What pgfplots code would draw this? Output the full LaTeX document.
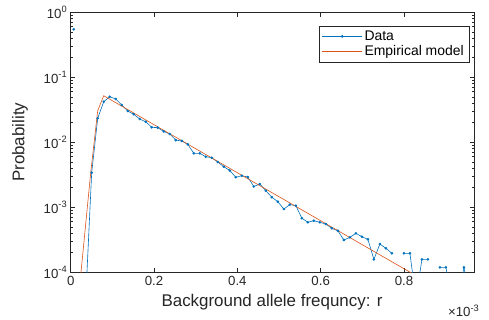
\documentclass[border=0pt]{standalone}
\usepackage{fontspec}
\setmainfont{Liberation Sans}
\usepackage{pgfplots}
\pgfplotsset{compat=1.18}
\definecolor{mblue}{rgb}{0,0.447,0.741}
\definecolor{morange}{rgb}{0.85,0.325,0.098}
\definecolor{maxis}{rgb}{0.15,0.15,0.15}
\begin{document}
\begin{tikzpicture}
\useasboundingbox (-70.7bp,-47.7bp) rectangle (418.3bp,272.3bp);
\begin{axis}[
  scale only axis, width=403.3bp, height=260bp,
  at={(0,0)}, anchor=south west,
  xmin=0, xmax=0.968, ymin=1e-4, ymax=1, ymode=log,
  unbounded coords=jump,
  xtick={0,0.2,0.4,0.6,0.8}, xticklabels={0,0.2,0.4,0.6,0.8},
  ytick={1e-4,1e-3,1e-2,1e-1,1},
  yticklabels={10\textsuperscript{-4},10\textsuperscript{-3},10\textsuperscript{-2},10\textsuperscript{-1},10\textsuperscript{0}},
  tick label style={font=\fontsize{13.3}{15}\selectfont, text=maxis},
  axis line style={maxis, line width=0.5bp},
  every tick/.style={maxis, line width=0.5bp},
  major tick length=4.5bp, minor tick length=2.5bp,
  legend cell align=left,
  legend style={at={(axis description cs:0.9876,0.947)}, anchor=north east,
    draw=maxis, line width=0.5bp, fill=white,
    font=\fontsize{14}{16}\selectfont, inner xsep=3bp, inner ysep=2.5bp, row sep=0bp},
  legend image code/.code={\draw[mark repeat=2,mark phase=2,#1] plot coordinates {(0bp,0bp) (20bp,0bp) (40bp,0bp)};},
]
\addplot[mblue, line width=0.6bp, mark=*, mark size=1bp] coordinates {
(0.0072,0.547)
(0.0216,nan)
(0.0360,3.9e-5)
(0.0504,3.41e-3)
(0.0648,0.0234)
(0.0793,0.0421)
(0.0937,0.0503)
(0.1081,0.0464)
(0.1225,0.0375)
(0.1369,0.0303)
(0.1513,0.0270)
(0.1657,0.0228)
(0.1801,0.0207)
(0.1945,0.0170)
(0.2089,0.0168)
(0.2234,0.0147)
(0.2378,0.0134)
(0.2522,0.0108)
(0.2666,0.0105)
(0.2810,0.0093)
(0.2954,0.00677)
(0.3098,0.00677)
(0.3242,0.0060)
(0.3386,0.00579)
(0.3530,0.00497)
(0.3675,0.00421)
(0.3819,0.00368)
(0.3963,0.0029)
(0.4107,0.00306)
(0.4251,0.00292)
(0.4395,0.00209)
(0.4539,0.00228)
(0.4683,0.0018)
(0.4827,0.00143)
(0.4971,0.00122)
(0.5116,0.00094)
(0.5260,0.0011)
(0.5404,0.00106)
(0.5548,0.00068)
(0.5692,0.000588)
(0.5836,0.000622)
(0.5980,0.000588)
(0.6124,0.000553)
(0.6268,0.000475)
(0.6412,0.000436)
(0.6557,0.000314)
(0.6701,0.000345)
(0.6845,0.000398)
(0.6989,0.000353)
(0.7133,0.000322)
(0.7277,0.000158)
(0.7421,0.000272)
(0.7565,0.000234)
(0.7709,0.000196)
(0.7853,nan)
(0.7998,0.000196)
(0.8142,0.000196)
(0.8286,3.9e-5)
(0.8430,0.000158)
(0.8574,0.000158)
(0.8718,nan)
(0.8862,0.000119)
(0.9006,0.000119)
(0.9150,3.9e-5)
(0.9294,3.9e-5)
(0.9439,0.000119)
(0.9583,3.9e-5)
(0.9727,3.9e-5)
};
\addlegendentry{Data}
\addplot[morange, line width=0.6bp, mark=none] coordinates {
(0.0200,5e-5)
(0.0247,1e-4)
(0.0480,3.4e-3)
(0.0648,0.0306)
(0.0792,0.0521)
(0.968,2.72e-5)
};
\addlegendentry{Empirical model}
\end{axis}
\node[rotate=90, font=\fontsize{17}{20}\selectfont, text=maxis] at (-50.7bp,130bp) {Probability};
\node[font=\fontsize{17}{20}\selectfont, text=maxis] at (201.3bp,-29.7bp) {Background allele frequncy: r};
\node[font=\fontsize{13.3}{15}\selectfont, text=maxis] at (393bp,-38.7bp) {×10\textsuperscript{-3}};
\end{tikzpicture}
\end{document}
